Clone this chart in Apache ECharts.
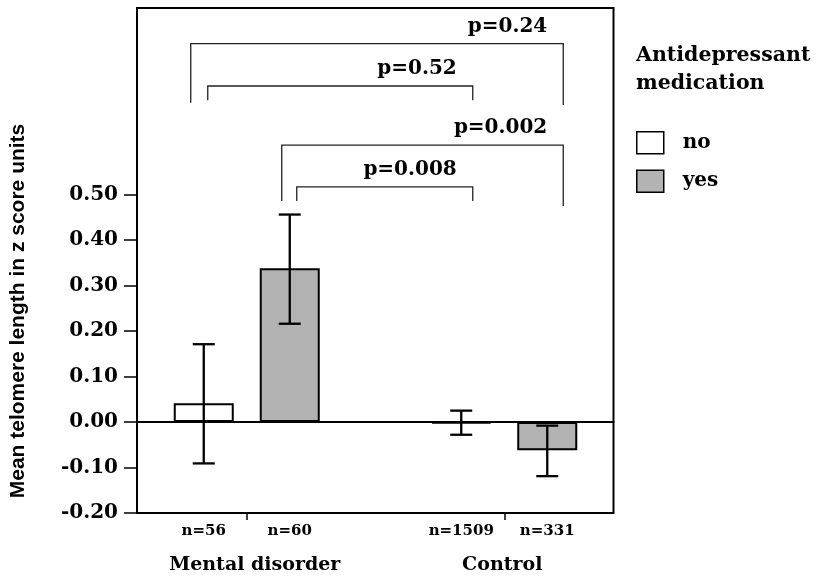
<!DOCTYPE html>
<html><head><meta charset="utf-8">
<script src="https://cdn.jsdelivr.net/npm/echarts@6/dist/echarts.min.js"></script>
<style>html,body{margin:0;padding:0;background:#fff}#c{width:822px;height:576px}</style>
</head><body><div id="c"></div>
<script>
// ---------- data ----------
const groups = ['Mental disorder', 'Control'];
const seriesNames = ['no', 'yes'];
const meanNo = [0.041, -0.003];
const meanYes = [0.338, -0.062];
const errLowNo = [-0.091, -0.028];
const errHighNo = [0.171, 0.025];
const errLowYes = [0.216, -0.119];
const errHighYes = [0.456, -0.008];
const nNo = ['n=56', 'n=1509'];
const nYes = ['n=60', 'n=331'];
const yTicks = [-0.2, -0.1, 0, 0.1, 0.2, 0.3, 0.4, 0.5];
const yMin = -0.2, yMax = 0.91;
// significance brackets (bar order: MD-no, MD-yes, C-no, C-yes)
const pLabels = ['p=0.24', 'p=0.52', 'p=0.002', 'p=0.008'];
const pFrom = [0, 0, 1, 1];
const pTo = [3, 2, 3, 2];
const pTop = [0.8315, 0.7385, 0.6085, 0.517];
const pLegLeft = [0.702, 0.707, 0.486, 0.486];
const pLegRight = [0.697, 0.707, 0.475, 0.486];

// ---------- style ----------
const SERIF = '"DejaVu Serif"';
const BAR_W = 60, BAR_GAP = 26;
const OFF = (BAR_W + BAR_GAP) / 2;
const CAP = 11;
const legL = [-13, 4, -8, 7];
const legR = [16, 11.5, 16, 11.5];

function barX(api, k) {
  const g = Math.floor(k / 2);
  return api.coord([g, 0])[0] + (k % 2 ? OFF : -OFF);
}

const errData = [];
const nData = [];
const nText = [];
groups.forEach((g, i) => {
  errData.push([i, errLowNo[i], errHighNo[i], -1]);
  errData.push([i, errLowYes[i], errHighYes[i], 1]);
  nData.push([i, yMin, -1]); nText.push(nNo[i]);
  nData.push([i, yMin, 1]); nText.push(nYes[i]);
});
const brData = pLabels.map((p, i) => [pFrom[i], pTop[i]]);

const chart = echarts.init(document.getElementById('c'), null, {renderer: 'canvas'});
chart.setOption({
  animation: false,
  backgroundColor: '#fff',
  title: {
    text: 'Antidepressant\nmedication',
    left: 636, top: 42, padding: 0,
    textStyle: {fontFamily: SERIF, fontWeight: 'bold', fontSize: 20.5, lineHeight: 28, color: '#000'}
  },
  legend: {
    orient: 'vertical', left: 636, top: 131, padding: 0,
    itemWidth: 27, itemHeight: 22, itemGap: 15, icon: 'rect',
    data: seriesNames,
    itemStyle: {borderColor: '#000', borderWidth: 1.5},
    textStyle: {fontFamily: SERIF, fontWeight: 'bold', fontSize: 20, color: '#000', padding: [0, 0, 0, 14]}
  },
  grid: [
    {left: 137, right: 208.5, top: 8, bottom: 63, show: true, borderColor: '#000', borderWidth: 2, backgroundColor: 'transparent'},
    {left: 118, right: 189, top: 8, bottom: 63}
  ],
  xAxis: [
    {gridIndex: 0, type: 'value', min: 0, max: 1,
     axisLine: {show: true, onZero: true, lineStyle: {color: '#000', width: 2}},
     axisTick: {show: false}, axisLabel: {show: false}, splitLine: {show: false}},
    {gridIndex: 1, type: 'category', data: groups, position: 'bottom',
     axisLine: {show: false, onZero: false},
     axisTick: {show: true, alignWithLabel: true, interval: 0, length: 7, lineStyle: {color: '#000', width: 1.5}},
     axisLabel: {interval: 0, hideOverlap: false, margin: 43, color: '#000', fontFamily: SERIF, fontWeight: 'bold', fontSize: 19,
       formatter: (v) => v === groups[0] ? '{a|' + v + '}' : '{b|' + v + '}',
       rich: {a: {fontFamily: SERIF, fontWeight: 'bold', fontSize: 19, color: '#000', padding: [0, 0, 0, 16]},
              b: {fontFamily: SERIF, fontWeight: 'bold', fontSize: 19, color: '#000', padding: [0, 4, 0, 0]}}},
     splitLine: {show: false}}
  ],
  yAxis: [
    {gridIndex: 0, type: 'value', min: yMin, max: yMax, interval: 0.1,
     axisLine: {show: true, lineStyle: {color: '#000', width: 2}},
     axisTick: {show: true, length: 13, customValues: yTicks, lineStyle: {color: '#000', width: 1.5}},
     axisLabel: {customValues: yTicks, margin: 19, formatter: (v) => v.toFixed(2),
       color: '#000', fontFamily: SERIF, fontWeight: 'bold', fontSize: 20},
     splitLine: {show: false},
     name: 'Mean telomere length in z score units', nameLocation: 'middle', nameGap: 108,
     nameTextStyle: {fontFamily: '"Liberation Sans", Arial', fontWeight: 'bold', fontSize: 21, color: '#000', padding: [0, 101, 0, 0]}},
    {gridIndex: 1, type: 'value', min: yMin, max: yMax, show: false, splitLine: {show: false}}
  ],
  series: [
    {name: 'no', type: 'bar', xAxisIndex: 1, yAxisIndex: 1, data: meanNo, barWidth: BAR_W, barGap: (BAR_GAP / BAR_W * 100) + '%',
     itemStyle: {color: '#ffffff', borderColor: '#000', borderWidth: 2}, z: 2},
    {name: 'yes', type: 'bar', xAxisIndex: 1, yAxisIndex: 1, data: meanYes, barWidth: BAR_W, barGap: (BAR_GAP / BAR_W * 100) + '%',
     itemStyle: {color: '#b3b3b3', borderColor: '#000', borderWidth: 2}, z: 2},
    {type: 'custom', xAxisIndex: 1, yAxisIndex: 1, data: errData, z: 5, silent: true,
     encode: {x: 0, y: [1, 2]},
     renderItem: function (params, api) {
       const g = api.value(0), side = api.value(3);
       const x = api.coord([g, 0])[0] + side * OFF;
       const yl = api.coord([g, api.value(1)])[1];
       const yh = api.coord([g, api.value(2)])[1];
       const st = {stroke: '#000', lineWidth: 2.3};
       return {type: 'group', children: [
         {type: 'line', shape: {x1: x, y1: yl, x2: x, y2: yh}, style: st},
         {type: 'line', shape: {x1: x - CAP, y1: yh, x2: x + CAP, y2: yh}, style: st},
         {type: 'line', shape: {x1: x - CAP, y1: yl, x2: x + CAP, y2: yl}, style: st}
       ]};
     }},
    {type: 'custom', xAxisIndex: 1, yAxisIndex: 1, data: nData, z: 5, silent: true, clip: false,
     encode: {x: 0, y: 1},
     renderItem: function (params, api) {
       const g = api.value(0), side = api.value(2);
       const x = api.coord([g, 0])[0] + side * OFF;
       const y = api.coord([g, api.value(1)])[1] + 18;
       return {type: 'text', style: {text: nText[params.dataIndex], x: x, y: y, align: 'center', verticalAlign: 'middle',
         font: 'bold 15px ' + SERIF, fill: '#000'}};
     }},
    {type: 'custom', xAxisIndex: 1, yAxisIndex: 1, data: brData, z: 5, silent: true, clip: false,
     encode: {x: 0, y: 1},
     renderItem: function (params, api) {
       const i = params.dataIndex;
       const xl = barX(api, pFrom[i]) + legL[i];
       const xr = barX(api, pTo[i]) + legR[i];
       const yt = api.coord([0, pTop[i]])[1];
       const yll = api.coord([0, pLegLeft[i]])[1];
       const ylr = api.coord([0, pLegRight[i]])[1];
       return {type: 'group', children: [
         {type: 'polyline', shape: {points: [[xl, yll], [xl, yt], [xr, yt], [xr, ylr]]},
          style: {stroke: '#222', lineWidth: 1.3, fill: null}},
         {type: 'text', style: {text: pLabels[i], x: xr - 16, y: yt - 17, align: 'right', verticalAlign: 'middle',
          font: 'bold 20px ' + SERIF, fill: '#000'}}
       ]};
     }}
  ]
});
</script>
</body></html>
